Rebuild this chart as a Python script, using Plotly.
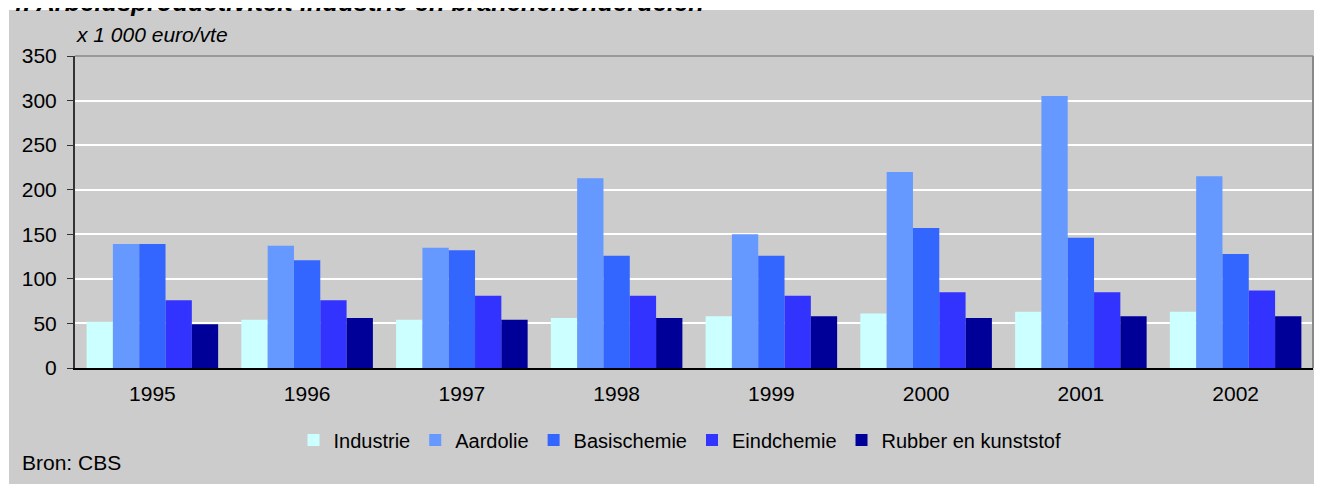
import plotly.graph_objects as go

years = ["1995", "1996", "1997", "1998", "1999", "2000", "2001", "2002"]
industrie = [52, 54, 54, 56, 58, 61, 63, 63]
aardolie = [139, 137, 135, 213, 150, 220, 305, 215]
basischemie = [139, 121, 132, 126, 126, 157, 146, 128]
eindchemie = [76, 76, 81, 81, 81, 85, 85, 87]
rubber = [49, 56, 54, 56, 58, 56, 58, 58]

series = [
    ("Industrie", industrie, "#CCFFFF"),
    ("Aardolie", aardolie, "#6699FF"),
    ("Basischemie", basischemie, "#3366FF"),
    ("Eindchemie", eindchemie, "#3333FF"),
    ("Rubber en kunststof", rubber, "#000099"),
]

# page is offset by the 8px body margin
OFF = 8
W, H = 1322 - OFF, 484 - OFF
L, R, T, B = 75 - OFF, 9, 56 - OFF, H - (368 - OFF)
pw, ph = W - L - R, H - T - B

def px(x):  # page pixel -> paper x
    return (x - OFF - L) / pw

def py(y):  # page pixel -> paper y
    return (H - B - (y - OFF)) / ph

fig = go.Figure()
for name, vals, col in series:
    fig.add_trace(go.Bar(x=years, y=vals, name=name, marker=dict(color=col, line=dict(width=0))))

font = "Liberation Sans, Arial, sans-serif"
fig.update_layout(
    width=W, height=H,
    margin=dict(l=L, r=R, t=T, b=B),
    paper_bgcolor="white",
    plot_bgcolor="#CCCCCC",
    barmode="group",
    bargap=0.15,
    bargroupgap=0,
    font=dict(family=font, size=21, color="black"),
    showlegend=True,
    legend=dict(orientation="h", x=px(680), xanchor="center", y=py(440), yanchor="middle",
                bgcolor="rgba(0,0,0,0)", font=dict(size=20), itemwidth=30, traceorder="normal"),
    xaxis=dict(showgrid=False, showline=True, linecolor="black", linewidth=2,
               ticks="outside", ticklen=6, tickcolor="rgba(0,0,0,0)", zeroline=False,
               tickfont=dict(size=21)),
    yaxis=dict(range=[0, 350], dtick=50, showgrid=True, gridcolor="white", gridwidth=2,
               showline=True, linecolor="#333333", linewidth=2, ticks="outside", ticklen=6,
               tickcolor="#333333", zeroline=False, tickfont=dict(size=21),
               ticklabelstandoff=6),
    shapes=[
        dict(type="rect", xref="paper", yref="paper", x0=px(9), x1=px(1340), y0=py(520), y1=py(10),
             fillcolor="#CCCCCC", line=dict(width=0), layer="below"),
        dict(type="line", xref="paper", yref="paper", x0=0, x1=1, y0=1, y1=1,
             line=dict(color="#999999", width=2)),
        dict(type="line", xref="paper", yref="paper", x0=1, x1=1, y0=0, y1=1,
             line=dict(color="#888888", width=2)),
    ],
    annotations=[
        dict(text="<b><i>4. Arbeidsproductiviteit industrie en branchenonderdelen</i></b>",
             xref="paper", yref="paper", x=px(6), y=py(2), xanchor="left", yanchor="middle",
             showarrow=False, font=dict(size=25.5, family=font)),
        dict(text="<i>x 1 000 euro/vte</i>", xref="paper", yref="paper", x=px(74), y=py(34),
             xanchor="left", yanchor="middle", showarrow=False, font=dict(size=21, family=font)),
        dict(text="Bron: CBS", xref="paper", yref="paper", x=px(20), y=py(462),
             xanchor="left", yanchor="middle", showarrow=False, font=dict(size=21, family=font)),
    ],
)

fig.write_html("out.html")
